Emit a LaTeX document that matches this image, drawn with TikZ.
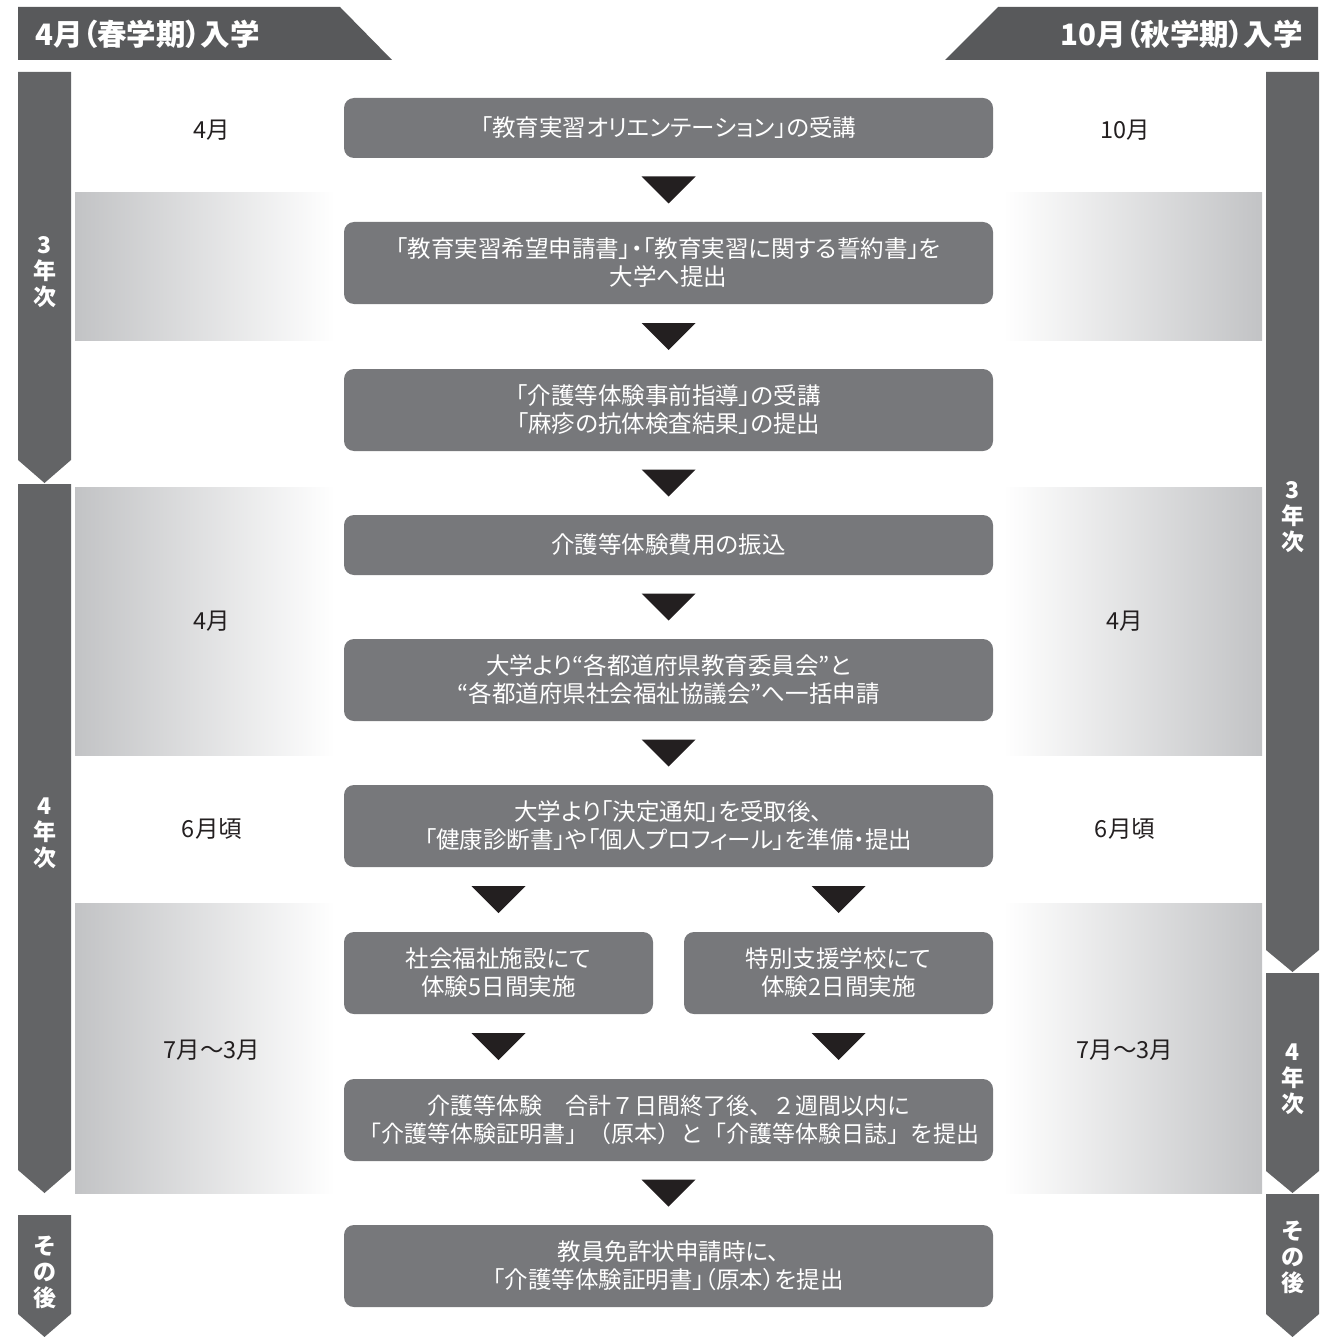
\documentclass[tikz,border=0pt]{standalone}
\usepackage{fontspec}
\newfontfamily\jp[RawFeature=+palt]{Noto Sans CJK JP}
\newfontfamily\jpfw{Noto Sans CJK JP}
\usetikzlibrary{calc}
\definecolor{boxgray}{HTML}{77787B}
\definecolor{sidegray}{HTML}{636466}
\definecolor{headgray}{HTML}{58595B}
\definecolor{tridark}{HTML}{231F20}
\definecolor{bandgray}{HTML}{C2C3C5}
\begin{document}
\begin{tikzpicture}[x=1pt,y=-1pt,
  box/.style={fill=boxgray, rounded corners=10pt, minimum width=649pt, minimum height=82pt,
    text=white, font=\jp\fontsize{23.5}{28}\selectfont, align=center, inner sep=0pt},
  halfbox/.style={box, minimum width=309pt},
  sidelabel/.style={text=white, font=\jp\bfseries\fontsize{23}{26}\selectfont, align=center, inner sep=0pt},
  month/.style={text=tridark, font=\jp\fontsize{23.5}{26}\selectfont, inner sep=0pt},
  head/.style={text=white, font=\jp\bfseries\fontsize{29.5}{32}\selectfont, inner sep=0pt},
  sidearrow/.style={fill=sidegray},
  headshape/.style={fill=headgray},
  tri/.pic={\fill[tridark] (-27,-13.5) -- (27,-13.5) -- (0,13.5) -- cycle;}
]
\useasboundingbox (0,0) rectangle (1334,1337);

% headers
\fill[headshape] (18,7) -- (340,7) -- (392,60) -- (18,60) -- cycle;
\fill[headshape] (998,7) -- (1318,7) -- (1318,60) -- (945,60) -- cycle;
\node[head, anchor=west] (hl) at (35,34) {4月（春学期）入学};
\node[head, anchor=east] (hr) at (1303,34) {10月（秋学期）入学};

% gradient bands
\shade[left color=bandgray, right color=white] (75,193) rectangle (335,340);
\shade[left color=white, right color=bandgray] (1003,193) rectangle (1262,340);
\shade[left color=bandgray, right color=white] (75,487) rectangle (335,755);
\shade[left color=white, right color=bandgray] (1003,487) rectangle (1262,755);
\shade[left color=bandgray, right color=white] (75,903) rectangle (335,1193);
\shade[left color=white, right color=bandgray] (1003,903) rectangle (1262,1193);

% left side arrows
\fill[sidearrow] (18,72) -- (71,72) -- (71,460) -- (44.5,483) -- (18,460) -- cycle;
\fill[sidearrow] (18,484) -- (71,484) -- (71,1170) -- (44.5,1193) -- (18,1170) -- cycle;
\fill[sidearrow] (18,1215) -- (71,1215) -- (71,1314) -- (44.5,1337) -- (18,1314) -- cycle;
% right side arrows
\fill[sidearrow] (1266,72) -- (1319,72) -- (1319,950) -- (1292.5,972) -- (1266,950) -- cycle;
\fill[sidearrow] (1266,973) -- (1319,973) -- (1319,1171) -- (1292.5,1193) -- (1266,1171) -- cycle;
\fill[sidearrow] (1266,1194) -- (1319,1194) -- (1319,1314) -- (1292.5,1337) -- (1266,1314) -- cycle;

% side labels
\node[sidelabel] (l1) at (44.5,272) {3\\年\\次};
\node[sidelabel] (l2) at (44.5,833) {4\\年\\次};
\node[sidelabel] (l3) at (44.5,1272) {そ\\の\\後};
\node[sidelabel] (r1) at (1292.5,517) {3\\年\\次};
\node[sidelabel] (r2) at (1292.5,1079) {4\\年\\次};
\node[sidelabel] (r3) at (1292.5,1257) {そ\\の\\後};

% month labels
\node[month] (ml1) at (212,130) {4月};
\node[month] (mr1) at (1125,130) {10月};
\node[month] (ml2) at (212,621) {4月};
\node[month] (mr2) at (1125,621) {4月};
\node[month] (ml3) at (212,829) {6月頃};
\node[month] (mr3) at (1125,829) {6月頃};
\node[month] (ml4) at (212,1050) {7月～3月};
\node[month] (mr4) at (1125,1050) {7月～3月};

% boxes
\node[box, minimum height=60pt] (b1) at (668.5,128) {「教育実習オリエンテーション」の受講};
\node[box] (b2) at (668.5,263) {「教育実習希望申請書」・「教育実習に関する誓約書」を\\大学へ提出};
\node[box] (b3) at (668.5,410) {「介護等体験事前指導」の受講\\「麻疹の抗体検査結果」の提出};
\node[box, minimum height=60pt] (b4) at (668.5,545) {介護等体験費用の振込};
\node[box] (b5) at (668.5,680) {大学より“各都道府県教育委員会”と\\“各都道府県社会福祉協議会”へ一括申請};
\node[box] (b6) at (668.5,826) {大学より「決定通知」を受取後、\\「健康診断書」や「個人プロフィール」を準備・提出};
\node[halfbox] (b7a) at (498.5,973) {社会福祉施設にて\\体験5日間実施};
\node[halfbox] (b7b) at (838.5,973) {特別支援学校にて\\体験2日間実施};
\node[box, font=\jpfw\fontsize{23}{28}\selectfont] (b8) at (668.5,1120) {介護等体験　合計７日間終了後、２週間以内に\\「介護等体験証明書」（原本）と「介護等体験日誌」を提出};
\node[box] (b9) at (668.5,1266) {教員免許状申請時に、\\「介護等体験証明書」（原本）を提出};

% connectors (triangles)
\pic at ($(b1.south)!0.5!(b2.north)$) {tri};
\pic at ($(b2.south)!0.5!(b3.north)$) {tri};
\pic at ($(b3.south)!0.5!(b4.north)$) {tri};
\pic at ($(b4.south)!0.5!(b5.north)$) {tri};
\pic at ($(b5.south)!0.5!(b6.north)$) {tri};
\pic at ($(b6.south -| b7a.north)!0.5!(b7a.north)$) {tri};
\pic at ($(b6.south -| b7b.north)!0.5!(b7b.north)$) {tri};
\pic at ($(b7a.south)!0.5!(b8.north -| b7a.south)$) {tri};
\pic at ($(b7b.south)!0.5!(b8.north -| b7b.south)$) {tri};
\pic at ($(b8.south)!0.5!(b9.north)$) {tri};
\end{tikzpicture}
\end{document}
